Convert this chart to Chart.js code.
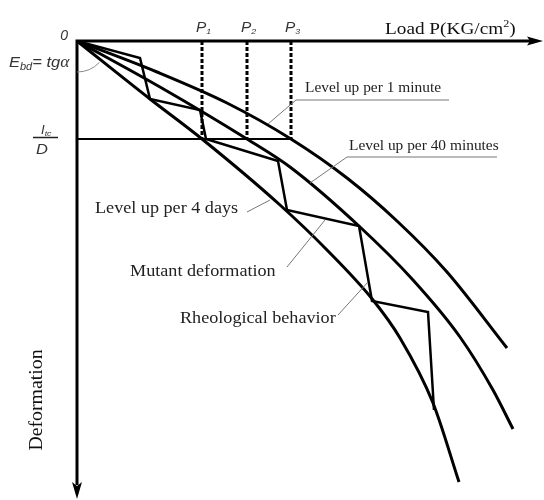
<!DOCTYPE html>
<html>
<head>
<meta charset="utf-8">
<script src="https://cdn.jsdelivr.net/npm/chart.js@4"></script>
<style>
  html, body { margin: 0; padding: 0; background: #fff; }
  canvas { display: block; }
</style>
</head>
<body>
<canvas id="chart" width="544" height="500"></canvas>
<script>
// x = load P, y = deformation (plot units, origin top-left, deformation grows downward)
const minuteLoad = [0, 8.0, 15.0, 21.4, 27.0, 32.0, 37.0, 43.0]
const minuteDeform = [0, 3.1, 6.2, 9.8, 13.7, 18.0, 23.1, 30.7]

const fortyLoad = [0, 8.3, 17.0, 21.3, 28.3, 33.6, 38.3, 41.6, 43.6]
const fortyDeform = [0, 4.6, 9.8, 12.6, 18.6, 23.9, 29.6, 34.9, 38.8]

const daysLoad = [0, 7.3, 12.5, 20.3, 25.0, 29.6, 32.3, 35.6, 38.2]
const daysDeform = [0, 5.8, 9.8, 16.4, 20.9, 25.9, 29.7, 36.2, 44.1]

// stepwise loading: jump at constant load, then creep down to the long-term curve
const stepLoad = [0, 6.3, 7.3, 12.3, 12.9, 20.1, 21.0, 28.2, 29.5, 35.1, 35.7]
const stepDeform = [0, 1.7, 5.8, 6.9, 9.8, 12.0, 16.9, 18.5, 26.0, 27.1, 36.9]

const pLoads = [12.5, 17.0, 21.4]
const pNames = ['1', '2', '3']
const limitDeform = 9.8

const toPoints = (xs, ys) => xs.map((v, i) => ({ x: v, y: ys[i] }))

const curve = (xs, ys) => ({
  data: toPoints(xs, ys),
  showLine: true,
  borderColor: '#000',
  borderWidth: 3,
  pointRadius: 0,
  cubicInterpolationMode: 'monotone',
  fill: false,
})

const straight = (xs, ys, width, dash) => ({
  data: toPoints(xs, ys),
  showLine: true,
  borderColor: '#000',
  borderWidth: width,
  borderDash: dash || [],
  pointRadius: 0,
  tension: 0,
  fill: false,
})

const datasets = [
  curve(minuteLoad, minuteDeform),
  curve(fortyLoad, fortyDeform),
  curve(daysLoad, daysDeform),
  straight(stepLoad, stepDeform, 2.5),
  straight([0, pLoads[2]], [limitDeform, limitDeform], 2),
  ...pLoads.map((p) => straight([p, p], [0, limitDeform], 3, [4, 2])),
]

const SERIF = '"Liberation Serif", "Times New Roman", serif'
const SANS = '"Liberation Sans", Arial, sans-serif'
const WIDEN = 1.1

// text notes with leader lines, anchored in plot units
const notes = [
  { text: 'Level up per 1 minute', at: [22.8, 5.1], size: 14, under: [21.9, 37.2, 5.9], lead: [[21.9, 5.9], [19.1, 8.3]] },
  { text: 'Level up per 40 minutes', at: [27.2, 10.9], size: 14, under: [27.0, 42.0, 11.6], lead: [[27.0, 11.6], [23.3, 14.2]] },
  { text: 'Level up per 4 days', at: [1.8, 17.2], size: 16.5, lead: [[17.0, 17.1], [19.3, 15.9]] },
  { text: 'Mutant deformation', at: [5.3, 23.5], size: 16.5, lead: [[21.0, 22.6], [24.8, 17.9]] },
  { text: 'Rheological behavior', at: [10.3, 28.2], size: 16.5, lead: [[26.1, 27.4], [29.1, 24.1]] },
]

// draws a run of [text, font, dy] pieces left to right, slightly widened
const drawRun = (ctx, pieces, x, y) => {
  ctx.save()
  ctx.translate(x, y)
  ctx.scale(WIDEN, 1)
  let cx = 0
  pieces.forEach(([t, font, dy]) => {
    ctx.font = font
    ctx.fillText(t, cx, dy || 0)
    cx += ctx.measureText(t).width
  })
  ctx.restore()
}

const sketch = {
  id: 'sketch',
  afterDatasetsDraw(chart) {
    const { ctx, scales: { x, y } } = chart
    const X = (v) => x.getPixelForValue(v)
    const Y = (v) => y.getPixelForValue(v)
    const ox = X(0)
    const oy = Y(0)
    const xEnd = X(x.max)
    const yEnd = Y(y.max)

    ctx.save()

    // axes with arrow heads
    ctx.strokeStyle = '#000'
    ctx.fillStyle = '#000'
    ctx.lineWidth = 3
    ctx.beginPath()
    ctx.moveTo(ox - 1.5, oy)
    ctx.lineTo(xEnd - 12, oy)
    ctx.moveTo(ox, oy)
    ctx.lineTo(ox, yEnd - 14)
    ctx.stroke()

    ctx.beginPath()
    ctx.moveTo(xEnd, oy)
    ctx.lineTo(xEnd - 16, oy - 4.5)
    ctx.lineTo(xEnd - 13, oy)
    ctx.lineTo(xEnd - 16, oy + 4.5)
    ctx.closePath()
    ctx.fill()

    ctx.beginPath()
    ctx.moveTo(ox, yEnd)
    ctx.lineTo(ox - 5, yEnd - 17)
    ctx.lineTo(ox, yEnd - 13)
    ctx.lineTo(ox + 5, yEnd - 17)
    ctx.closePath()
    ctx.fill()

    // angle alpha between the deformation axis and the initial slope
    ctx.strokeStyle = '#888'
    ctx.lineWidth = 1
    ctx.beginPath()
    ctx.arc(ox, oy, 31, Math.atan2(22, 23), Math.PI / 2)
    ctx.stroke()

    // notes
    ctx.strokeStyle = '#777'
    ctx.lineWidth = 1
    ctx.fillStyle = '#222'
    ctx.textBaseline = 'alphabetic'
    ctx.textAlign = 'left'
    notes.forEach((n) => {
      drawRun(ctx, [[n.text, `${n.size}px ${SERIF}`]], X(n.at[0]), Y(n.at[1]))
      ctx.beginPath()
      if (n.under) {
        ctx.moveTo(X(n.under[0]), Y(n.under[2]))
        ctx.lineTo(X(n.under[1]), Y(n.under[2]))
      }
      ctx.moveTo(X(n.lead[0][0]), Y(n.lead[0][1]))
      ctx.lineTo(X(n.lead[1][0]), Y(n.lead[1][1]))
      ctx.stroke()
    })

    // load axis title
    ctx.fillStyle = '#111'
    drawRun(ctx, [
      ['Load P(KG/cm', `17.5px ${SERIF}`],
      ['2', `11px ${SERIF}`, -7],
      [')', `17.5px ${SERIF}`],
    ], 385, 34)

    // deformation axis title, reading upward
    ctx.save()
    ctx.translate(42, 400)
    ctx.rotate(-Math.PI / 2)
    ctx.scale(WIDEN, 1)
    ctx.textAlign = 'center'
    ctx.font = `18px ${SERIF}`
    ctx.fillText('Deformation', 0, 0)
    ctx.restore()

    // P1..P3 above the dashed load lines
    ctx.fillStyle = '#333'
    pLoads.forEach((p, i) => {
      drawRun(ctx, [
        ['P', `italic 14px ${SANS}`],
        [pNames[i], `italic 8px ${SANS}`, 2],
      ], X(p) - 6, 32)
    })

    // origin and left-hand symbols
    ctx.font = `italic 14px ${SANS}`
    ctx.textAlign = 'right'
    ctx.fillText('0', ox - 9, oy - 1)
    ctx.textAlign = 'left'

    drawRun(ctx, [
      ['E', `italic 15px ${SANS}`],
      ['bd', `italic 10px ${SANS}`, 3],
      ['= tg', `italic 15px ${SANS}`],
      ['\u03b1', `italic 16px ${SERIF}`],
    ], 9, 67)

    // I_tc / D fraction level
    const fy = Y(limitDeform)
    drawRun(ctx, [
      ['I', `italic 12px ${SANS}`],
      ['tc', `italic 8px ${SANS}`, 2],
    ], 41, fy - 5)
    ctx.strokeStyle = '#222'
    ctx.lineWidth = 1.5
    ctx.beginPath()
    ctx.moveTo(33, fy - 1.5)
    ctx.lineTo(58, fy - 1.5)
    ctx.stroke()
    drawRun(ctx, [['D', `italic 15px ${SANS}`]], 36, fy + 15)

    ctx.restore()
  },
}

new Chart(document.getElementById('chart'), {
  type: 'scatter',
  data: { datasets },
  options: {
    responsive: false,
    animation: false,
    layout: { padding: { left: 77, top: 41, right: 1, bottom: 1 } },
    scales: {
      x: { type: 'linear', min: 0, max: 46.6, display: false },
      y: { type: 'linear', min: 0, max: 45.8, reverse: true, display: false },
    },
    plugins: {
      legend: { display: false },
      tooltip: { enabled: false },
    },
    elements: { line: { borderCapStyle: 'butt' } },
  },
  plugins: [sketch],
})
</script>
</body>
</html>
